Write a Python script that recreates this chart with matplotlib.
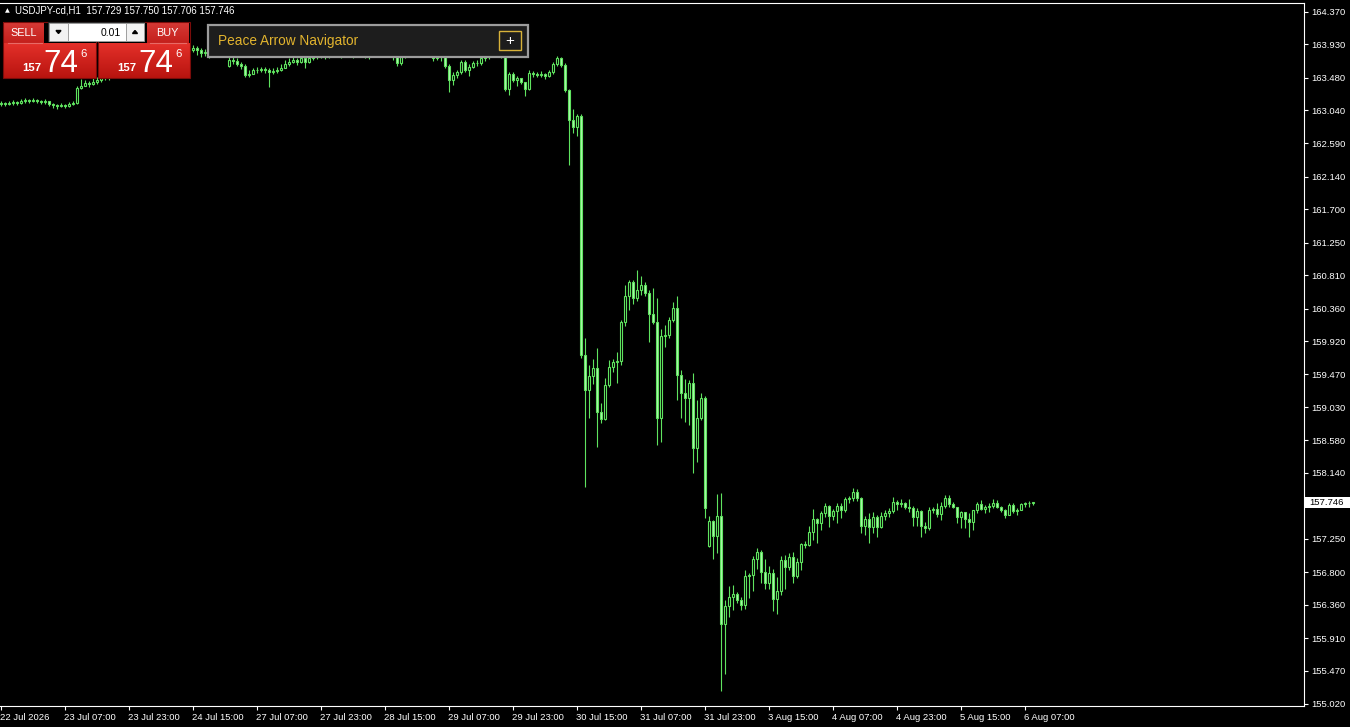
import matplotlib
matplotlib.use("Agg")
import matplotlib.pyplot as plt
from matplotlib.patches import Rectangle, Polygon
import numpy as np

plt.rcParams['font.family'] = ['Liberation Sans', 'DejaVu Sans']

# ---------------- data (USDJPY-cd, H1) ----------------
time_labels = ['22 Jul 2026', '23 Jul 07:00', '23 Jul 23:00', '24 Jul 15:00', '27 Jul 07:00',
               '27 Jul 23:00', '28 Jul 15:00', '29 Jul 07:00', '29 Jul 23:00', '30 Jul 15:00',
               '31 Jul 07:00', '31 Jul 23:00', '3 Aug 15:00', '4 Aug 07:00', '4 Aug 23:00',
               '5 Aug 15:00', '6 Aug 07:00']
time_label_bars = [0, 16, 32, 48, 64, 80, 96, 112, 128, 144, 160, 176, 192, 208, 224, 240, 256]

price_ticks = [164.370, 163.930, 163.480, 163.040, 162.590, 162.140, 161.700, 161.250, 160.810,
               160.360, 159.920, 159.470, 159.030, 158.580, 158.140, 157.690, 157.250, 156.800,
               156.360, 155.910, 155.470, 155.020]

opens = [
163.123,163.137,163.123,163.137,163.150,163.137,163.164,163.177,163.164,163.177,
163.164,163.150,163.164,163.123,163.110,163.096,163.110,163.096,163.123,163.137,
163.339,163.366,163.407,163.393,163.421,163.448,163.475,163.502,163.488,163.529,
163.556,163.542,163.583,163.610,163.637,163.623,163.664,163.691,163.718,163.704,
163.745,163.758,163.785,163.772,163.799,163.826,163.812,163.839,163.853,163.880,
163.853,163.812,163.826,163.799,163.826,163.853,163.839,163.637,163.718,163.704,
163.664,163.637,163.515,163.529,163.583,163.583,163.596,163.583,163.556,163.569,
163.583,163.610,163.664,163.691,163.718,163.691,163.745,163.691,163.745,163.758,
163.772,163.785,163.772,163.785,163.812,163.826,163.812,163.839,163.826,163.812,
163.853,163.839,163.826,163.812,163.839,163.826,163.853,163.839,163.812,163.758,
163.677,163.758,163.799,163.812,163.826,163.839,163.826,163.812,163.799,163.745,
163.772,163.758,163.637,163.448,163.515,163.556,163.691,163.583,163.623,163.677,
163.677,163.745,163.758,163.785,163.812,163.826,163.785,163.326,163.529,163.448,
163.475,163.421,163.326,163.542,163.529,163.515,163.529,163.502,163.556,163.664,
163.745,163.650,163.312,162.907,162.813,162.961,159.733,159.261,159.450,159.558,
158.964,158.869,159.328,159.571,159.639,159.652,160.179,160.530,160.719,160.503,
160.611,160.679,160.571,160.287,160.179,158.882,159.990,160.003,160.206,160.368,
159.463,159.220,159.153,159.355,158.477,158.882,159.153,157.154,157.491,157.289,
157.559,156.100,156.343,156.465,156.505,156.424,156.357,156.748,156.762,156.978,
157.073,156.802,156.654,156.789,156.438,156.546,156.965,156.870,157.005,156.748,
156.938,157.181,157.167,157.343,157.518,157.464,157.599,157.694,157.559,157.626,
157.694,157.640,157.788,157.802,157.883,157.802,157.424,157.518,157.410,157.545,
157.410,157.559,157.599,157.626,157.748,157.721,157.735,157.680,157.667,157.545,
157.626,157.424,157.397,157.640,157.653,157.586,157.694,157.802,157.721,157.680,
157.545,157.613,157.518,157.478,157.640,157.721,157.653,157.680,157.694,157.735,
157.680,157.640,157.572,157.708,157.626,157.640,157.721,157.728,157.729]

highs = [
163.164,163.150,163.164,163.177,163.164,163.191,163.204,163.191,163.204,163.191,
163.177,163.191,163.164,163.137,163.123,163.137,163.123,163.150,163.164,163.366,
163.461,163.448,163.434,163.475,163.488,163.515,163.542,163.529,163.569,163.596,
163.583,163.623,163.650,163.677,163.664,163.704,163.731,163.758,163.745,163.785,
163.799,163.826,163.812,163.839,163.866,163.853,163.880,163.893,163.920,163.907,
163.880,163.866,163.853,163.880,163.907,163.893,163.880,163.758,163.758,163.745,
163.691,163.664,163.583,163.610,163.623,163.623,163.623,163.610,163.610,163.623,
163.664,163.718,163.745,163.772,163.745,163.799,163.758,163.785,163.799,163.812,
163.826,163.812,163.826,163.853,163.866,163.853,163.880,163.866,163.853,163.893,
163.880,163.866,163.853,163.880,163.866,163.893,163.880,163.853,163.826,163.785,
163.785,163.839,163.853,163.866,163.880,163.866,163.853,163.839,163.799,163.812,
163.799,163.772,163.664,163.556,163.583,163.718,163.718,163.664,163.704,163.718,
163.785,163.812,163.839,163.853,163.866,163.853,163.826,163.556,163.556,163.502,
163.475,163.421,163.583,163.569,163.556,163.569,163.542,163.583,163.691,163.772,
163.758,163.677,163.326,163.056,162.988,162.988,159.963,159.598,159.679,159.828,
159.085,159.423,159.666,159.679,159.774,160.206,160.679,160.746,160.746,160.881,
160.800,160.719,160.611,160.638,160.503,160.084,160.138,160.247,160.449,160.530,
159.531,159.409,159.396,159.490,159.126,159.220,159.180,157.559,157.505,157.856,
157.870,156.424,156.613,156.627,156.532,156.465,156.830,156.789,157.019,157.127,
157.100,156.978,156.884,156.843,156.735,157.019,157.032,157.059,157.073,156.992,
157.194,157.221,157.424,157.653,157.532,157.626,157.735,157.708,157.653,157.735,
157.735,157.815,157.829,157.937,157.924,157.815,157.559,157.599,157.613,157.572,
157.613,157.640,157.667,157.815,157.775,157.788,157.748,157.788,157.694,157.667,
157.640,157.478,157.680,157.680,157.735,157.748,157.842,157.842,157.748,157.680,
157.626,157.613,157.599,157.640,157.748,157.775,157.708,157.735,157.788,157.775,
157.694,157.653,157.735,157.735,157.667,157.735,157.748,157.761,157.750]

lows = [
163.096,163.096,163.110,163.110,163.110,163.123,163.137,163.137,163.150,163.137,
163.123,163.123,163.096,163.069,163.056,163.083,163.069,163.083,163.110,163.123,
163.326,163.366,163.353,163.380,163.393,163.421,163.448,163.448,163.475,163.502,
163.502,163.529,163.556,163.583,163.583,163.610,163.637,163.664,163.664,163.691,
163.718,163.731,163.731,163.745,163.772,163.772,163.785,163.799,163.826,163.785,
163.758,163.772,163.745,163.772,163.785,163.785,163.772,163.623,163.664,163.637,
163.596,163.488,163.488,163.529,163.542,163.556,163.542,163.353,163.529,163.542,
163.569,163.610,163.637,163.677,163.650,163.677,163.610,163.677,163.718,163.731,
163.745,163.731,163.745,163.758,163.772,163.745,163.785,163.758,163.745,163.785,
163.758,163.745,163.731,163.772,163.758,163.785,163.772,163.758,163.718,163.637,
163.650,163.745,163.772,163.785,163.785,163.772,163.758,163.758,163.704,163.718,
163.704,163.610,163.285,163.380,163.475,163.529,163.556,163.502,163.610,163.637,
163.650,163.704,163.731,163.758,163.772,163.745,163.299,163.245,163.421,163.366,
163.393,163.231,163.312,163.488,163.488,163.488,163.461,163.488,163.529,163.637,
163.623,163.285,162.300,162.732,162.691,159.693,157.950,158.882,159.342,158.491,
158.815,158.855,159.301,159.504,159.355,159.598,160.125,160.341,160.422,160.463,
160.544,160.530,159.909,160.152,158.518,158.558,159.841,159.963,160.179,159.126,
158.882,158.828,158.788,158.140,158.288,158.855,157.532,157.140,156.978,157.059,
155.195,155.425,156.195,156.289,156.384,156.289,156.303,156.451,156.546,156.843,
156.654,156.573,156.573,156.276,156.235,156.492,156.573,156.830,156.654,156.721,
156.830,157.127,157.154,157.235,157.194,157.370,157.545,157.410,157.505,157.464,
157.532,157.613,157.735,157.761,157.761,157.329,157.302,157.194,157.329,157.275,
157.397,157.505,157.545,157.599,157.640,157.680,157.653,157.613,157.424,157.424,
157.275,157.329,157.370,157.599,157.545,157.505,157.667,157.680,157.667,157.464,
157.397,157.397,157.275,157.370,157.599,157.640,157.599,157.613,157.667,157.667,
157.613,157.532,157.572,157.599,157.572,157.640,157.680,157.680,157.706]

closes = [
163.137,163.123,163.137,163.150,163.137,163.164,163.177,163.164,163.177,163.164,
163.150,163.164,163.123,163.110,163.096,163.110,163.096,163.123,163.137,163.339,
163.366,163.407,163.393,163.421,163.448,163.475,163.502,163.488,163.529,163.556,
163.542,163.583,163.610,163.637,163.623,163.664,163.691,163.718,163.704,163.745,
163.758,163.785,163.772,163.799,163.826,163.812,163.839,163.853,163.880,163.853,
163.812,163.826,163.799,163.826,163.853,163.839,163.826,163.718,163.704,163.664,
163.637,163.515,163.529,163.583,163.583,163.596,163.583,163.556,163.569,163.583,
163.610,163.664,163.691,163.718,163.691,163.745,163.691,163.745,163.758,163.772,
163.785,163.772,163.785,163.812,163.826,163.812,163.839,163.826,163.812,163.853,
163.839,163.826,163.812,163.839,163.826,163.853,163.839,163.812,163.758,163.677,
163.758,163.799,163.812,163.826,163.839,163.826,163.812,163.799,163.745,163.772,
163.758,163.637,163.448,163.515,163.556,163.691,163.583,163.623,163.677,163.677,
163.745,163.758,163.785,163.812,163.826,163.785,163.326,163.529,163.448,163.475,
163.421,163.326,163.542,163.529,163.515,163.529,163.502,163.556,163.664,163.745,
163.650,163.312,162.907,162.813,162.961,159.733,159.261,159.450,159.558,158.964,
158.869,159.328,159.571,159.639,159.652,160.179,160.530,160.719,160.503,160.611,
160.679,160.571,160.287,160.179,158.882,159.990,160.003,160.206,160.368,159.463,
159.220,159.153,159.355,158.477,158.882,159.153,157.667,157.491,157.289,157.559,
156.100,156.343,156.465,156.505,156.424,156.357,156.748,156.762,156.978,157.073,
156.802,156.654,156.789,156.438,156.546,156.965,156.870,157.005,156.748,156.938,
157.181,157.167,157.343,157.518,157.464,157.599,157.694,157.559,157.626,157.694,
157.640,157.788,157.802,157.883,157.802,157.424,157.518,157.410,157.545,157.410,
157.559,157.599,157.626,157.748,157.721,157.735,157.680,157.667,157.545,157.626,
157.424,157.397,157.640,157.653,157.586,157.694,157.802,157.721,157.680,157.545,
157.613,157.518,157.478,157.640,157.721,157.653,157.680,157.694,157.735,157.680,
157.640,157.572,157.708,157.626,157.640,157.721,157.728,157.735,157.746]

symbol = 'USDJPY-cd,H1'
last_ohlc = '157.729 157.750 157.706 157.746'
last_price = 157.746
lot = '0.01'

# ---------------- figure ----------------
W, H = 1350, 727
fig = plt.figure(figsize=(W / 100, H / 100), dpi=100, facecolor='black')

L, R, T, B = 0, 1304, 3, 706
ax = fig.add_axes([L / W, 1 - B / H, (R - L) / W, (B - T) / H])
ax.set_facecolor('black')

GREEN = '#5fe35f'
BEAR_FILL = '#b2f4b2'

x = np.arange(len(closes))
o = np.array(opens); h = np.array(highs); l = np.array(lows); c = np.array(closes)
ax.vlines(x, l, h, colors=GREEN, linewidth=0.8, zorder=2)
bear = c < o
bottoms = np.minimum(o, c)
heights = np.abs(c - o)
ax.bar(x[~bear], heights[~bear], bottom=bottoms[~bear], width=0.5,
       facecolor='black', edgecolor=GREEN, linewidth=0.8, zorder=3)
ax.bar(x[bear], heights[bear], bottom=bottoms[bear], width=0.5,
       facecolor=BEAR_FILL, edgecolor=GREEN, linewidth=0.8, zorder=3)

xmin = -0.125
ax.set_xlim(xmin, xmin + (R - L) / 4.0)
ppu = 74.04
ax.set_ylim(164.370 - (B - 11.7) / ppu, 164.370 + (11.7 - T) / ppu)

for s in ax.spines.values():
    s.set_color('white')
    s.set_linewidth(0.8)
ax.spines['left'].set_visible(False)

# price scale (the label under the current-price box is hidden, as in the terminal)
ax.yaxis.tick_right()
ax.set_yticks(price_ticks)
ax.set_yticklabels(['' if abs(p - last_price) < 0.1 else '%.3f' % p for p in price_ticks])
ax.set_xticks(time_label_bars)
ax.set_xticklabels(time_labels, ha='left')
ax.tick_params(axis='both', colors='white', labelcolor='white', labelsize=6.8,
               direction='out', length=3, width=0.8)
ax.tick_params(axis='y', pad=2)
ax.tick_params(axis='x', pad=2)

# ---------------- overlay (pixel coordinates) ----------------
ov = fig.add_axes([0, 0, 1, 1])
ov.set_xlim(0, W)
ov.set_ylim(H, 0)
ov.axis('off')
ov.patch.set_alpha(0)

def rect(x0, y0, w, hh, fc, ec='none', lw=0.0, z=5):
    ov.add_patch(Rectangle((x0, y0), w, hh, facecolor=fc, edgecolor=ec, linewidth=lw, zorder=z))

def grad(x0, y0, w, hh, top, bot, z=5):
    g = np.linspace(0, 1, 64)[:, None]
    t = np.array(matplotlib.colors.to_rgb(top)); b = np.array(matplotlib.colors.to_rgb(bot))
    img = (t[None, None, :] * (1 - g[:, :, None]) + b[None, None, :] * g[:, :, None])
    ov.imshow(img, extent=[x0, x0 + w, y0 + hh, y0], aspect='auto', zorder=z, interpolation='bilinear')

# header
ov.text(4.5, 10.5, '▲', fontsize=4.5, color='white', va='center', ha='left',
        family=['DejaVu Sans'], zorder=6)
ov.text(15, 10.5, symbol + '  ' + last_ohlc, fontsize=7, color='white', va='center', ha='left', zorder=6)

# one-click trading panel
grad(3, 22, 41, 21, '#d63a36', '#c4201c')
grad(147, 22, 42, 21, '#d63a36', '#c4201c')
ov.plot([8, 42], [42.5, 42.5], color='#e86a66', lw=0.8, zorder=6)
ov.plot([150, 186], [42.5, 42.5], color='#e86a66', lw=0.8, zorder=6)
grad(3, 43, 93, 35, '#e4302a', '#b8140f')
grad(98, 43, 92, 35, '#e4302a', '#b8140f')
ov.add_patch(Rectangle((3, 22), 93, 56, fill=False, edgecolor='#7a0c0a', lw=0.8, zorder=7))
ov.add_patch(Rectangle((98, 22), 92, 56, fill=False, edgecolor='#7a0c0a', lw=0.8, zorder=7))
ov.text(23.5, 32.5, 'SELL', fontsize=7.8, color='white', ha='center', va='center', zorder=8)
ov.text(167.5, 32.5, 'BUY', fontsize=7.8, color='white', ha='center', va='center', zorder=8)

# lot box
rect(48, 22, 97, 20, '#2a2a2a', z=7)
rect(49, 23, 19, 18, '#f2f2f2', ec='#9a9a9a', lw=0.6, z=8)
rect(68, 23, 58, 18, 'white', ec='#9a9a9a', lw=0.6, z=8)
rect(126, 23, 18, 18, '#f2f2f2', ec='#9a9a9a', lw=0.6, z=8)
ov.add_patch(Polygon([[56, 30.5], [61, 30.5], [58.5, 33.5]], closed=True, color='black', zorder=9))
ov.add_patch(Polygon([[132.5, 33.5], [137.5, 33.5], [135, 30.5]], closed=True, color='black', zorder=9))
ov.text(121, 32.5, lot, fontsize=7.5, color='black', ha='right', va='center', zorder=9)

for bx in (3, 98):
    ov.text(bx + 19, 71, '157', fontsize=8.2, color='white', ha='left', va='baseline', zorder=9,
            fontweight='bold')
    ov.text(bx + 40, 71.5, '74', fontsize=22.5, color='white', ha='left', va='baseline', zorder=9)
    ov.text(bx + 77.5, 57, '6', fontsize=8.2, color='white', ha='left', va='baseline', zorder=9)

# navigator panel
rect(207.5, 24.5, 320, 32.5, '#1d1d1d', ec='#9c9c9c', lw=1.6, z=6)
ov.text(218, 41.5, 'Peace Arrow Navigator', fontsize=9.8, color='#e2b42e', ha='left', va='center', zorder=8)
rect(499, 31, 22, 18.5, '#1d1d1d', ec='#d8b23a', lw=1.0, z=7)
ov.text(510, 40.5, '+', fontsize=11, color='white', ha='center', va='center', zorder=8)

# current price label
rect(1305, 497, 45, 11, 'white', z=8)
ov.text(1309, 502.5, '%.3f' % last_price, fontsize=6.8, color='black', ha='left', va='center', zorder=9)

fig.savefig('out.png', dpi=100, facecolor='black')
